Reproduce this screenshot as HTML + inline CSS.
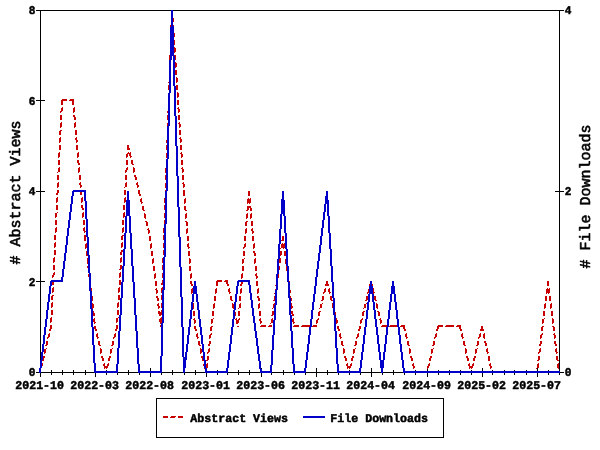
<!DOCTYPE html>
<html lang="en"><head><meta charset="utf-8">
<title>Abstract Views and File Downloads</title>
<style>
html,body{margin:0;padding:0;background:#fff;}
body{width:600px;height:450px;overflow:hidden;}
svg{display:block;}
.ax{fill:#000;}
text{font-family:"Liberation Mono","DejaVu Sans Mono",monospace;font-weight:bold;text-rendering:geometricPrecision;fill:#000;stroke:#000;stroke-width:0.45px;stroke-linejoin:round;}
.m{font-size:11.8px;stroke-width:0.5px;}
.g{font-size:15px;font-weight:normal;stroke-width:0.6px;}
</style></head><body>
<svg width="600" height="450" viewBox="0 0 600 450" shape-rendering="crispEdges">
<rect x="0" y="0" width="600" height="450" fill="#fff"/>
<path class="ax" d="M36 10h528v1h-528zM40 11h1v89h-1zM559 11h1v180h-1zM36 100h9v1h-9zM40 101h1v90h-1zM36 191h9v1h-9zM555 191h9v1h-9zM40 192h1v89h-1zM559 192h1v180h-1zM36 281h9v1h-9zM40 282h1v90h-1zM95 368h1v4h-1zM150 368h1v4h-1zM206 368h1v4h-1zM261 368h1v4h-1zM316 368h1v4h-1zM371 368h1v4h-1zM427 368h1v4h-1zM482 368h1v4h-1zM537 368h1v4h-1zM51 370h1v2h-1zM62 370h1v2h-1zM73 370h1v2h-1zM85 370h1v2h-1zM106 370h1v2h-1zM117 370h1v2h-1zM128 370h1v2h-1zM139 370h1v2h-1zM161 370h1v2h-1zM172 370h1v2h-1zM184 370h1v2h-1zM195 370h1v2h-1zM217 370h1v2h-1zM227 370h1v2h-1zM238 370h1v2h-1zM249 370h1v2h-1zM271 370h1v2h-1zM283 370h1v2h-1zM294 370h1v2h-1zM305 370h1v2h-1zM327 370h1v2h-1zM338 370h1v2h-1zM349 370h1v2h-1zM360 370h1v2h-1zM382 370h1v2h-1zM393 370h1v2h-1zM404 370h1v2h-1zM415 370h1v2h-1zM438 370h1v2h-1zM449 370h1v2h-1zM460 370h1v2h-1zM471 370h1v2h-1zM492 370h1v2h-1zM504 370h1v2h-1zM514 370h1v2h-1zM526 370h1v2h-1zM548 370h1v2h-1zM36 372h528v1h-528zM40 373h1v4h-1zM51 373h1v2h-1zM62 373h1v2h-1zM73 373h1v2h-1zM85 373h1v2h-1zM95 373h1v4h-1zM106 373h1v2h-1zM117 373h1v2h-1zM128 373h1v2h-1zM139 373h1v2h-1zM150 373h1v4h-1zM161 373h1v2h-1zM172 373h1v2h-1zM184 373h1v2h-1zM195 373h1v2h-1zM206 373h1v4h-1zM217 373h1v2h-1zM227 373h1v2h-1zM238 373h1v2h-1zM249 373h1v2h-1zM261 373h1v4h-1zM271 373h1v2h-1zM283 373h1v2h-1zM294 373h1v2h-1zM305 373h1v2h-1zM316 373h1v4h-1zM327 373h1v2h-1zM338 373h1v2h-1zM349 373h1v2h-1zM360 373h1v2h-1zM371 373h1v4h-1zM382 373h1v2h-1zM393 373h1v2h-1zM404 373h1v2h-1zM415 373h1v2h-1zM427 373h1v4h-1zM438 373h1v2h-1zM449 373h1v2h-1zM460 373h1v2h-1zM471 373h1v2h-1zM482 373h1v4h-1zM492 373h1v2h-1zM504 373h1v2h-1zM514 373h1v2h-1zM526 373h1v2h-1zM537 373h1v4h-1zM548 373h1v2h-1zM559 373h1v2h-1zM156 398h288v1h-288zM156 399h1v38h-1zM443 399h1v38h-1zM156 437h288v1h-288z"/>
<path fill="#c80000" d="M173 18h1v4h-1zM170 25h1v2h-1zM173 25h1v1h-1zM174 33h1v4h-1zM174 40h1v5h-1zM174 47h1v1h-1zM174 48h2v4h-2zM174 52h1v1h-1zM169 55h1v5h-1zM174 55h2v1h-2zM175 56h1v4h-1zM175 62h1v1h-1zM175 63h2v4h-2zM175 67h1v1h-1zM175 70h2v5h-2zM176 77h1v1h-1zM176 78h2v4h-2zM168 82h1v1h-1zM176 82h1v1h-1zM168 85h1v5h-1zM176 85h2v5h-2zM177 92h1v1h-1zM177 93h2v4h-2zM177 97h1v1h-1zM62 99h5v1h-5zM70 99h4v1h-4zM61 100h6v1h-6zM69 100h5v1h-5zM177 100h2v5h-2zM61 101h2v4h-2zM72 101h2v4h-2zM62 107h1v1h-1zM74 107h1v1h-1zM178 107h1v1h-1zM61 108h2v3h-2zM73 108h2v4h-2zM177 108h2v1h-2zM178 109h2v3h-2zM60 111h2v1h-2zM167 111h1v2h-1zM60 112h1v1h-1zM73 112h1v1h-1zM178 112h1v1h-1zM60 115h2v5h-2zM73 115h2v2h-2zM167 115h1v5h-1zM178 115h2v5h-2zM74 117h2v3h-2zM61 122h1v1h-1zM75 122h1v1h-1zM179 122h1v1h-1zM60 123h2v4h-2zM74 123h2v4h-2zM167 123h1v3h-1zM178 123h2v1h-2zM179 124h2v3h-2zM60 127h1v1h-1zM74 127h1v1h-1zM179 127h1v1h-1zM60 130h2v1h-2zM75 130h2v5h-2zM179 130h2v5h-2zM59 131h2v4h-2zM60 137h1v1h-1zM76 137h1v1h-1zM180 137h1v1h-1zM59 138h2v4h-2zM75 138h2v2h-2zM179 138h2v1h-2zM180 139h2v3h-2zM76 140h2v2h-2zM166 140h1v3h-1zM59 142h1v1h-1zM76 142h1v1h-1zM180 142h1v1h-1zM59 145h2v5h-2zM76 145h2v5h-2zM127 145h2v3h-2zM166 145h1v5h-1zM180 145h2v5h-2zM127 148h3v2h-3zM59 152h1v1h-1zM78 152h1v1h-1zM128 152h1v1h-1zM130 152h1v1h-1zM181 152h1v1h-1zM58 153h2v4h-2zM77 153h2v4h-2zM127 153h4v1h-4zM166 153h1v5h-1zM180 153h2v1h-2zM126 154h2v3h-2zM129 154h2v2h-2zM181 154h2v3h-2zM130 156h2v1h-2zM58 157h1v1h-1zM77 157h1v1h-1zM126 157h1v1h-1zM130 157h1v1h-1zM181 157h1v1h-1zM58 160h2v5h-2zM77 160h2v3h-2zM126 160h2v5h-2zM131 160h2v4h-2zM181 160h2v5h-2zM78 163h2v2h-2zM132 164h2v1h-2zM59 167h1v1h-1zM79 167h1v1h-1zM127 167h1v1h-1zM133 167h1v1h-1zM182 167h1v1h-1zM58 168h2v4h-2zM78 168h2v4h-2zM126 168h2v2h-2zM133 168h2v4h-2zM165 168h1v5h-1zM181 168h2v1h-2zM182 169h2v3h-2zM125 170h2v2h-2zM57 172h1v1h-1zM78 172h1v1h-1zM125 172h1v1h-1zM133 172h1v1h-1zM182 172h1v1h-1zM57 175h2v5h-2zM79 175h2v5h-2zM125 175h2v5h-2zM134 175h2v2h-2zM165 175h1v5h-1zM182 175h2v5h-2zM135 177h2v3h-2zM58 182h1v1h-1zM80 182h1v1h-1zM126 182h1v1h-1zM137 182h1v1h-1zM183 182h1v1h-1zM57 183h2v4h-2zM79 183h2v2h-2zM125 183h2v4h-2zM136 183h2v2h-2zM165 183h1v5h-1zM182 183h2v1h-2zM183 184h2v3h-2zM80 185h2v2h-2zM137 185h2v2h-2zM57 187h1v1h-1zM80 187h1v1h-1zM124 187h1v1h-1zM137 187h1v1h-1zM183 187h1v1h-1zM57 190h2v3h-2zM124 190h2v5h-2zM138 190h2v4h-2zM165 190h1v1h-1zM183 190h2v6h-2zM248 191h2v5h-2zM80 192h2v3h-2zM56 193h2v2h-2zM139 194h2v2h-2zM57 197h1v1h-1zM82 197h1v1h-1zM125 197h1v1h-1zM56 198h2v4h-2zM81 198h2v4h-2zM124 198h2v4h-2zM141 198h1v1h-1zM164 198h1v5h-1zM185 198h1v1h-1zM248 198h1v1h-1zM250 198h1v1h-1zM140 199h2v3h-2zM184 199h2v4h-2zM247 199h4v4h-4zM56 202h1v1h-1zM81 202h1v1h-1zM124 202h1v1h-1zM141 202h2v1h-2zM141 203h1v1h-1zM184 203h1v1h-1zM247 203h1v1h-1zM249 203h1v1h-1zM56 205h2v5h-2zM81 205h2v3h-2zM123 205h2v5h-2zM164 205h1v5h-1zM142 206h2v4h-2zM184 206h2v4h-2zM247 206h4v2h-4zM82 208h2v2h-2zM247 208h2v2h-2zM250 208h2v3h-2zM143 210h2v1h-2zM185 210h2v1h-2zM246 210h2v1h-2zM57 212h1v1h-1zM83 212h1v1h-1zM124 212h1v1h-1zM55 213h2v4h-2zM82 213h2v4h-2zM123 213h2v4h-2zM144 213h1v1h-1zM164 213h1v5h-1zM186 213h1v1h-1zM247 213h1v1h-1zM251 213h1v1h-1zM144 214h2v4h-2zM185 214h2v4h-2zM246 214h2v4h-2zM250 214h2v4h-2zM55 217h1v1h-1zM82 217h1v1h-1zM123 217h1v1h-1zM145 218h1v1h-1zM185 218h1v1h-1zM246 218h1v1h-1zM250 218h1v1h-1zM55 220h2v5h-2zM83 220h2v5h-2zM122 220h2v5h-2zM164 220h1v4h-1zM145 221h2v1h-2zM185 221h2v1h-2zM246 221h2v1h-2zM251 221h2v5h-2zM146 222h2v4h-2zM186 222h2v4h-2zM245 222h2v4h-2zM56 227h1v1h-1zM84 227h1v1h-1zM123 227h1v1h-1zM55 228h2v4h-2zM83 228h2v3h-2zM122 228h2v4h-2zM148 228h1v1h-1zM163 228h1v5h-1zM187 228h1v1h-1zM246 228h1v1h-1zM252 228h1v1h-1zM147 229h2v1h-2zM186 229h2v4h-2zM245 229h2v4h-2zM251 229h2v2h-2zM148 230h2v3h-2zM84 231h2v1h-2zM252 231h2v2h-2zM55 232h1v1h-1zM84 232h1v1h-1zM122 232h1v1h-1zM148 233h1v1h-1zM186 233h1v1h-1zM245 233h1v1h-1zM252 233h1v1h-1zM54 235h2v5h-2zM84 235h2v6h-2zM122 235h2v1h-2zM163 235h1v5h-1zM121 236h2v4h-2zM149 236h2v5h-2zM187 236h2v5h-2zM244 236h2v5h-2zM252 236h2v5h-2zM282 236h2v4h-2zM281 240h3v1h-3zM55 242h1v1h-1zM122 242h1v1h-1zM54 243h2v4h-2zM86 243h1v1h-1zM121 243h2v4h-2zM151 243h1v1h-1zM163 243h1v5h-1zM188 243h1v1h-1zM245 243h1v1h-1zM254 243h1v1h-1zM282 243h1v1h-1zM284 243h1v1h-1zM85 244h2v4h-2zM150 244h2v4h-2zM187 244h2v3h-2zM244 244h2v3h-2zM253 244h2v4h-2zM281 244h4v4h-4zM54 247h1v1h-1zM121 247h1v1h-1zM188 247h2v1h-2zM243 247h2v1h-2zM85 248h1v1h-1zM150 248h1v1h-1zM188 248h1v1h-1zM243 248h1v1h-1zM253 248h1v1h-1zM280 248h1v1h-1zM283 248h1v1h-1zM54 250h2v5h-2zM121 250h2v2h-2zM163 250h1v5h-1zM86 251h1v4h-1zM151 251h2v5h-2zM188 251h2v5h-2zM243 251h2v5h-2zM253 251h2v2h-2zM280 251h2v4h-2zM284 251h2v5h-2zM120 252h2v3h-2zM254 253h2v3h-2zM86 255h2v1h-2zM280 255h1v1h-1zM54 257h1v1h-1zM121 257h1v1h-1zM53 258h2v4h-2zM87 258h1v6h-1zM120 258h2v4h-2zM153 258h1v1h-1zM162 258h1v5h-1zM189 258h1v1h-1zM244 258h1v1h-1zM255 258h1v1h-1zM280 258h1v1h-1zM152 259h2v4h-2zM189 259h2v4h-2zM242 259h2v4h-2zM254 259h2v4h-2zM279 259h2v4h-2zM285 259h1v5h-1zM53 262h1v1h-1zM120 262h1v1h-1zM152 263h1v1h-1zM189 263h1v1h-1zM242 263h1v1h-1zM254 263h1v1h-1zM53 265h2v5h-2zM120 265h2v4h-2zM162 265h1v5h-1zM87 266h1v2h-1zM153 266h2v5h-2zM189 266h2v5h-2zM242 266h2v5h-2zM255 266h2v5h-2zM279 266h1v4h-1zM286 266h1v5h-1zM119 269h2v1h-2zM54 272h1v1h-1zM120 272h1v1h-1zM53 273h2v2h-2zM119 273h2v4h-2zM155 273h1v1h-1zM162 273h1v5h-1zM191 273h1v1h-1zM242 273h1v1h-1zM256 273h1v1h-1zM88 274h1v3h-1zM154 274h2v4h-2zM190 274h2v4h-2zM241 274h2v4h-2zM255 274h2v2h-2zM278 274h1v4h-1zM52 275h2v2h-2zM256 276h2v2h-2zM52 277h1v1h-1zM119 277h1v1h-1zM154 278h1v1h-1zM190 278h1v1h-1zM241 278h1v1h-1zM256 278h1v1h-1zM119 280h2v5h-2zM162 280h1v3h-1zM217 280h5v1h-5zM225 280h3v1h-3zM155 281h2v5h-2zM190 281h2v3h-2zM216 281h6v1h-6zM224 281h4v1h-4zM256 281h2v5h-2zM289 281h1v1h-1zM326 281h2v3h-2zM547 281h2v5h-2zM52 282h2v3h-2zM216 282h2v4h-2zM226 282h2v2h-2zM241 282h2v2h-2zM161 283h2v2h-2zM191 284h2v2h-2zM227 284h2v2h-2zM240 284h2v2h-2zM325 284h4v2h-4zM369 284h1v2h-1zM372 284h1v2h-1zM275 285h1v1h-1zM53 287h1v1h-1zM119 287h1v1h-1zM162 287h1v1h-1zM52 288h2v4h-2zM91 288h1v3h-1zM118 288h2v4h-2zM156 288h1v1h-1zM161 288h2v2h-2zM192 288h1v1h-1zM216 288h1v1h-1zM229 288h1v1h-1zM241 288h1v1h-1zM258 288h1v1h-1zM325 288h1v1h-1zM329 288h1v1h-1zM373 288h1v4h-1zM547 288h1v1h-1zM549 288h1v1h-1zM155 289h2v1h-2zM191 289h2v4h-2zM215 289h2v4h-2zM228 289h2v3h-2zM240 289h2v4h-2zM257 289h2v4h-2zM275 289h1v1h-1zM324 289h2v3h-2zM328 289h2v3h-2zM368 289h1v3h-1zM546 289h4v4h-4zM156 290h2v3h-2zM161 290h1v3h-1zM290 290h1v3h-1zM52 292h1v1h-1zM118 292h1v1h-1zM229 292h2v1h-2zM323 292h2v1h-2zM329 292h2v1h-2zM367 292h2v1h-2zM373 292h2v1h-2zM156 293h1v1h-1zM191 293h1v1h-1zM215 293h1v1h-1zM229 293h1v1h-1zM240 293h1v1h-1zM257 293h1v1h-1zM274 293h1v1h-1zM323 293h1v1h-1zM329 293h1v1h-1zM367 293h1v1h-1zM373 293h1v1h-1zM546 293h1v1h-1zM548 293h1v1h-1zM52 295h2v1h-2zM118 295h2v5h-2zM161 295h1v5h-1zM51 296h2v4h-2zM92 296h1v5h-1zM156 296h2v2h-2zM214 296h2v5h-2zM230 296h2v4h-2zM239 296h2v5h-2zM257 296h2v2h-2zM274 296h1v4h-1zM290 296h1v2h-1zM322 296h2v4h-2zM330 296h2v4h-2zM366 296h2v4h-2zM374 296h2v4h-2zM545 296h2v5h-2zM549 296h2v5h-2zM157 298h2v3h-2zM258 298h2v3h-2zM291 298h1v3h-1zM231 300h2v1h-2zM273 300h2v1h-2zM321 300h2v1h-2zM331 300h2v1h-2zM365 300h2v1h-2zM375 300h2v1h-2zM52 302h1v1h-1zM118 302h1v1h-1zM51 303h2v4h-2zM92 303h1v1h-1zM117 303h2v4h-2zM158 303h1v1h-1zM161 303h1v5h-1zM193 303h1v6h-1zM214 303h1v1h-1zM232 303h1v1h-1zM240 303h1v1h-1zM259 303h1v1h-1zM274 303h1v1h-1zM291 303h1v3h-1zM322 303h1v1h-1zM332 303h1v5h-1zM366 303h1v1h-1zM376 303h1v1h-1zM545 303h1v1h-1zM551 303h1v1h-1zM92 304h2v4h-2zM157 304h2v2h-2zM213 304h2v4h-2zM232 304h2v4h-2zM239 304h2v4h-2zM258 304h2v4h-2zM273 304h2v1h-2zM320 304h2v4h-2zM364 304h2v4h-2zM376 304h2v4h-2zM544 304h2v4h-2zM550 304h2v4h-2zM273 305h1v3h-1zM158 306h2v2h-2zM291 306h2v2h-2zM51 307h1v1h-1zM117 307h1v1h-1zM92 308h1v1h-1zM158 308h1v1h-1zM213 308h1v1h-1zM233 308h1v1h-1zM238 308h1v1h-1zM258 308h1v1h-1zM272 308h1v1h-1zM291 308h1v1h-1zM319 308h1v1h-1zM363 308h1v1h-1zM377 308h1v1h-1zM544 308h1v1h-1zM550 308h1v1h-1zM51 310h2v5h-2zM117 310h2v5h-2zM161 310h1v2h-1zM93 311h1v2h-1zM158 311h2v1h-2zM193 311h2v5h-2zM212 311h2v5h-2zM238 311h2v5h-2zM259 311h2v5h-2zM272 311h2v4h-2zM291 311h2v3h-2zM319 311h2v1h-2zM363 311h2v1h-2zM377 311h2v1h-2zM543 311h2v5h-2zM551 311h2v5h-2zM158 312h4v2h-4zM235 312h1v4h-1zM318 312h2v4h-2zM335 312h1v3h-1zM362 312h2v4h-2zM378 312h2v4h-2zM93 313h2v3h-2zM159 314h3v1h-3zM292 314h2v2h-2zM159 315h2v1h-2zM271 315h2v1h-2zM51 317h1v1h-1zM118 317h1v1h-1zM161 317h1v1h-1zM50 318h2v4h-2zM94 318h1v1h-1zM116 318h2v4h-2zM160 318h2v1h-2zM194 318h1v1h-1zM213 318h1v1h-1zM236 318h1v1h-1zM239 318h1v1h-1zM260 318h1v1h-1zM272 318h1v1h-1zM293 318h1v1h-1zM318 318h1v1h-1zM336 318h1v2h-1zM362 318h1v1h-1zM380 318h1v1h-1zM544 318h1v1h-1zM552 318h1v1h-1zM93 319h2v3h-2zM159 319h3v3h-3zM193 319h2v1h-2zM211 319h2v4h-2zM235 319h2v1h-2zM238 319h2v1h-2zM259 319h2v2h-2zM271 319h2v4h-2zM292 319h2v3h-2zM317 319h2v1h-2zM361 319h2v1h-2zM379 319h2v1h-2zM542 319h2v4h-2zM552 319h2v4h-2zM194 320h2v3h-2zM236 320h3v3h-3zM316 320h2v3h-2zM336 320h2v3h-2zM360 320h2v3h-2zM380 320h2v3h-2zM260 321h2v2h-2zM50 322h1v1h-1zM94 322h2v1h-2zM116 322h1v1h-1zM160 322h2v1h-2zM293 322h2v1h-2zM94 323h1v1h-1zM160 323h1v1h-1zM194 323h1v1h-1zM211 323h1v1h-1zM236 323h2v1h-2zM260 323h1v1h-1zM270 323h1v1h-1zM293 323h1v1h-1zM316 323h1v1h-1zM336 323h1v1h-1zM360 323h1v1h-1zM380 323h1v1h-1zM542 323h1v1h-1zM552 323h1v1h-1zM50 325h2v4h-2zM116 325h2v4h-2zM160 325h1v2h-1zM261 325h5v1h-5zM269 325h3v1h-3zM294 325h5v1h-5zM302 325h8v1h-8zM313 325h4v1h-4zM382 325h5v1h-5zM390 325h7v1h-7zM401 325h4v1h-4zM438 325h5v1h-5zM446 325h8v1h-8zM457 325h4v1h-4zM94 326h2v3h-2zM194 326h2v3h-2zM211 326h2v1h-2zM237 326h2v1h-2zM260 326h6v1h-6zM268 326h4v1h-4zM293 326h6v1h-6zM301 326h9v1h-9zM312 326h5v1h-5zM337 326h2v3h-2zM359 326h2v3h-2zM381 326h6v1h-6zM389 326h8v1h-8zM400 326h5v1h-5zM437 326h6v1h-6zM445 326h9v1h-9zM456 326h5v1h-5zM481 326h2v3h-2zM542 326h2v1h-2zM552 326h2v1h-2zM210 327h2v4h-2zM403 327h2v2h-2zM437 327h2v2h-2zM459 327h2v2h-2zM541 327h2v4h-2zM553 327h2v4h-2zM49 329h2v2h-2zM95 329h2v2h-2zM115 329h2v2h-2zM195 329h2v2h-2zM338 329h2v2h-2zM358 329h2v2h-2zM404 329h2v2h-2zM436 329h2v2h-2zM460 329h2v2h-2zM480 329h4v2h-4zM49 333h1v1h-1zM97 333h1v1h-1zM115 333h1v1h-1zM197 333h1v1h-1zM211 333h1v1h-1zM340 333h1v1h-1zM358 333h1v1h-1zM406 333h1v1h-1zM436 333h1v1h-1zM462 333h1v1h-1zM480 333h1v1h-1zM484 333h1v1h-1zM542 333h1v1h-1zM554 333h1v1h-1zM48 334h2v3h-2zM96 334h2v3h-2zM114 334h2v3h-2zM196 334h2v3h-2zM210 334h2v1h-2zM339 334h2v3h-2zM357 334h2v3h-2zM405 334h2v3h-2zM435 334h2v3h-2zM461 334h2v3h-2zM479 334h2v3h-2zM483 334h2v4h-2zM541 334h2v1h-2zM553 334h2v1h-2zM209 335h2v3h-2zM540 335h2v3h-2zM554 335h2v3h-2zM47 337h2v1h-2zM97 337h2v1h-2zM113 337h2v1h-2zM197 337h2v1h-2zM340 337h2v1h-2zM356 337h2v1h-2zM406 337h2v1h-2zM434 337h2v1h-2zM462 337h2v1h-2zM478 337h2v1h-2zM47 338h1v1h-1zM97 338h1v1h-1zM113 338h1v1h-1zM197 338h1v1h-1zM209 338h1v1h-1zM340 338h1v1h-1zM356 338h1v1h-1zM406 338h1v1h-1zM434 338h1v1h-1zM462 338h1v1h-1zM478 338h1v1h-1zM484 338h1v1h-1zM540 338h1v1h-1zM554 338h1v1h-1zM46 341h2v4h-2zM98 341h2v4h-2zM112 341h2v4h-2zM198 341h2v4h-2zM209 341h2v3h-2zM341 341h2v4h-2zM355 341h2v4h-2zM407 341h2v4h-2zM433 341h2v4h-2zM463 341h2v4h-2zM477 341h2v4h-2zM484 341h2v2h-2zM540 341h2v3h-2zM554 341h2v3h-2zM485 343h2v3h-2zM208 344h2v2h-2zM539 344h2v2h-2zM555 344h2v2h-2zM45 345h2v1h-2zM99 345h2v1h-2zM111 345h2v1h-2zM199 345h2v1h-2zM342 345h2v1h-2zM354 345h2v1h-2zM408 345h2v1h-2zM432 345h2v1h-2zM464 345h2v1h-2zM476 345h2v1h-2zM46 348h1v1h-1zM100 348h1v1h-1zM112 348h1v1h-1zM200 348h1v1h-1zM209 348h1v1h-1zM343 348h1v1h-1zM355 348h1v1h-1zM409 348h1v1h-1zM433 348h1v1h-1zM465 348h1v1h-1zM477 348h1v1h-1zM487 348h1v1h-1zM540 348h1v1h-1zM556 348h1v1h-1zM44 349h2v4h-2zM100 349h2v4h-2zM110 349h2v4h-2zM200 349h2v4h-2zM208 349h2v3h-2zM343 349h2v4h-2zM353 349h2v4h-2zM409 349h2v4h-2zM431 349h2v4h-2zM465 349h2v4h-2zM475 349h2v4h-2zM486 349h2v3h-2zM539 349h2v3h-2zM555 349h2v3h-2zM207 352h2v1h-2zM487 352h2v1h-2zM538 352h2v1h-2zM556 352h2v1h-2zM44 353h1v1h-1zM100 353h1v1h-1zM110 353h1v1h-1zM200 353h1v1h-1zM207 353h1v1h-1zM343 353h1v1h-1zM353 353h1v1h-1zM409 353h1v1h-1zM431 353h1v1h-1zM465 353h1v1h-1zM475 353h1v1h-1zM487 353h1v1h-1zM538 353h1v1h-1zM556 353h1v1h-1zM43 356h2v2h-2zM101 356h2v2h-2zM109 356h2v2h-2zM201 356h2v2h-2zM207 356h2v4h-2zM344 356h2v2h-2zM352 356h2v2h-2zM410 356h2v2h-2zM430 356h2v2h-2zM466 356h2v2h-2zM474 356h2v2h-2zM488 356h2v5h-2zM538 356h2v4h-2zM556 356h2v4h-2zM43 358h1v2h-1zM102 358h2v3h-2zM108 358h2v3h-2zM202 358h1v2h-1zM345 358h2v3h-2zM351 358h2v3h-2zM411 358h2v3h-2zM429 358h2v3h-2zM467 358h2v3h-2zM473 358h2v3h-2zM42 360h2v1h-2zM202 360h2v1h-2zM206 360h2v1h-2zM537 360h2v1h-2zM557 360h2v1h-2zM42 363h1v3h-1zM104 363h1v1h-1zM108 363h1v1h-1zM207 363h1v1h-1zM347 363h1v1h-1zM351 363h1v1h-1zM413 363h1v1h-1zM429 363h1v1h-1zM469 363h1v1h-1zM473 363h1v1h-1zM490 363h1v1h-1zM538 363h1v1h-1zM558 363h1v1h-1zM103 364h2v2h-2zM107 364h2v2h-2zM203 364h1v2h-1zM206 364h2v4h-2zM346 364h2v2h-2zM350 364h2v2h-2zM412 364h2v2h-2zM428 364h2v2h-2zM468 364h2v2h-2zM472 364h2v2h-2zM489 364h2v2h-2zM537 364h2v4h-2zM557 364h2v4h-2zM104 366h4v2h-4zM347 366h4v2h-4zM413 366h2v2h-2zM427 366h2v2h-2zM469 366h4v2h-4zM490 366h2v2h-2zM104 368h1v1h-1zM106 368h1v1h-1zM204 368h1v1h-1zM347 368h1v1h-1zM349 368h1v1h-1zM413 368h1v1h-1zM427 368h1v1h-1zM469 368h1v1h-1zM471 368h1v1h-1zM490 368h1v1h-1zM536 368h1v1h-1zM558 368h1v1h-1zM163 416h5v2h-5zM171 416h5v1h-5zM178 416h5v2h-5zM170 417h5v1h-5z"/>
<path fill="#0000c8" d="M171 10h2v16h-2zM171 26h3v1h-3zM170 27h4v29h-4zM170 56h2v4h-2zM173 56h2v30h-2zM169 60h2v33h-2zM174 86h2v30h-2zM168 93h2v33h-2zM175 116h2v30h-2zM167 126h2v33h-2zM176 146h2v30h-2zM166 159h2v32h-2zM177 176h2v31h-2zM73 190h13v1h-13zM72 191h14v1h-14zM127 191h2v9h-2zM165 191h2v33h-2zM282 191h2v8h-2zM326 191h2v5h-2zM72 192h2v4h-2zM84 192h2v9h-2zM71 196h2v8h-2zM325 196h3v4h-3zM281 199h3v1h-3zM126 200h4v16h-4zM281 200h4v14h-4zM325 200h4v4h-4zM85 201h2v18h-2zM70 204h2v8h-2zM324 204h2v8h-2zM327 204h2v12h-2zM178 207h2v30h-2zM69 212h2v8h-2zM323 212h2v8h-2zM280 214h2v15h-2zM283 214h2v2h-2zM125 216h2v17h-2zM129 216h2v17h-2zM284 216h2v17h-2zM328 216h2v17h-2zM86 219h2v18h-2zM68 220h2v8h-2zM322 220h2v8h-2zM164 224h2v33h-2zM67 228h2v8h-2zM321 228h2v8h-2zM279 229h2v15h-2zM124 233h2v16h-2zM130 233h2v16h-2zM285 233h2v16h-2zM329 233h2v16h-2zM66 236h2v9h-2zM320 236h2v9h-2zM87 237h2v18h-2zM179 237h2v30h-2zM278 244h2v15h-2zM65 245h2v8h-2zM319 245h2v8h-2zM123 249h2v17h-2zM131 249h2v17h-2zM286 249h2v17h-2zM330 249h2v17h-2zM64 253h2v8h-2zM318 253h2v8h-2zM88 255h2v18h-2zM163 257h2v33h-2zM277 259h2v15h-2zM63 261h2v8h-2zM317 261h2v8h-2zM122 266h2v16h-2zM132 266h2v16h-2zM287 266h2v16h-2zM331 266h2v16h-2zM180 267h2v30h-2zM62 269h2v8h-2zM316 269h2v8h-2zM89 273h2v18h-2zM276 274h2v16h-2zM61 277h2v3h-2zM315 277h2v9h-2zM51 280h12v1h-12zM238 280h12v1h-12zM50 281h13v1h-13zM194 281h2v5h-2zM237 281h13v1h-13zM370 281h2v5h-2zM392 281h2v5h-2zM50 282h2v4h-2zM121 282h2v16h-2zM133 282h2v16h-2zM237 282h2v4h-2zM248 282h2v3h-2zM288 282h2v16h-2zM332 282h2v16h-2zM249 285h2v8h-2zM49 286h2v8h-2zM193 286h4v8h-4zM236 286h2v8h-2zM314 286h2v8h-2zM369 286h4v8h-4zM391 286h4v8h-4zM162 290h2v33h-2zM275 290h2v15h-2zM90 291h2v18h-2zM250 293h2v7h-2zM48 294h2v8h-2zM192 294h2v8h-2zM196 294h2v8h-2zM235 294h2v8h-2zM313 294h2v8h-2zM368 294h2v8h-2zM372 294h2v8h-2zM390 294h2v8h-2zM394 294h2v8h-2zM181 297h2v30h-2zM120 298h2v17h-2zM134 298h2v17h-2zM289 298h2v17h-2zM333 298h2v17h-2zM251 300h2v8h-2zM47 302h2v8h-2zM191 302h2v8h-2zM197 302h2v8h-2zM234 302h2v8h-2zM312 302h2v8h-2zM367 302h2v8h-2zM373 302h2v8h-2zM389 302h2v8h-2zM395 302h2v8h-2zM274 305h2v15h-2zM252 308h2v8h-2zM91 309h2v18h-2zM46 310h2v9h-2zM190 310h2v9h-2zM198 310h2v9h-2zM233 310h2v9h-2zM311 310h2v9h-2zM366 310h2v9h-2zM374 310h2v9h-2zM388 310h2v9h-2zM396 310h2v9h-2zM119 315h2v16h-2zM135 315h2v16h-2zM290 315h2v16h-2zM334 315h2v16h-2zM253 316h2v7h-2zM45 319h2v8h-2zM189 319h2v8h-2zM199 319h2v8h-2zM232 319h2v8h-2zM310 319h2v8h-2zM365 319h2v8h-2zM375 319h2v8h-2zM387 319h2v8h-2zM397 319h2v8h-2zM273 320h2v15h-2zM161 323h2v33h-2zM254 323h2v8h-2zM44 327h2v8h-2zM92 327h2v18h-2zM182 327h2v30h-2zM188 327h2v8h-2zM200 327h2v8h-2zM231 327h2v8h-2zM309 327h2v8h-2zM364 327h2v8h-2zM376 327h2v8h-2zM386 327h2v8h-2zM398 327h2v8h-2zM118 331h2v17h-2zM136 331h2v17h-2zM255 331h2v7h-2zM291 331h2v17h-2zM335 331h2v17h-2zM43 335h2v9h-2zM187 335h2v9h-2zM201 335h2v9h-2zM230 335h2v9h-2zM272 335h2v15h-2zM308 335h2v9h-2zM363 335h2v9h-2zM377 335h2v9h-2zM385 335h2v9h-2zM399 335h2v9h-2zM256 338h2v8h-2zM42 344h2v8h-2zM186 344h2v8h-2zM202 344h2v8h-2zM229 344h2v8h-2zM307 344h2v8h-2zM362 344h2v8h-2zM378 344h2v8h-2zM384 344h2v8h-2zM400 344h2v8h-2zM93 345h2v18h-2zM257 346h2v8h-2zM117 348h2v16h-2zM137 348h2v16h-2zM292 348h2v16h-2zM336 348h2v16h-2zM271 350h2v15h-2zM41 352h2v8h-2zM185 352h2v5h-2zM203 352h2v8h-2zM228 352h2v8h-2zM306 352h2v8h-2zM361 352h2v8h-2zM379 352h2v8h-2zM383 352h2v8h-2zM401 352h2v8h-2zM258 354h2v7h-2zM160 356h2v15h-2zM183 357h4v3h-4zM40 360h2v8h-2zM183 360h3v8h-3zM204 360h2v8h-2zM227 360h2v8h-2zM305 360h2v8h-2zM360 360h2v8h-2zM380 360h4v8h-4zM402 360h2v8h-2zM259 361h2v8h-2zM94 363h2v8h-2zM116 364h2v7h-2zM138 364h2v7h-2zM293 364h2v7h-2zM337 364h2v7h-2zM270 365h2v6h-2zM39 368h2v5h-2zM183 368h2v5h-2zM205 368h2v3h-2zM226 368h2v3h-2zM304 368h2v3h-2zM359 368h2v3h-2zM381 368h2v5h-2zM403 368h2v3h-2zM260 369h2v2h-2zM94 371h24v2h-24zM138 371h24v2h-24zM205 371h23v2h-23zM260 371h12v2h-12zM293 371h13v2h-13zM337 371h24v2h-24zM403 371h157v2h-157zM303 416h22v2h-22z"/>
<text class="m" x="28.8" y="376" textLength="6.7" lengthAdjust="spacingAndGlyphs">0</text>
<text class="m" x="28.8" y="286" textLength="6.7" lengthAdjust="spacingAndGlyphs">2</text>
<text class="m" x="28.8" y="195" textLength="6.7" lengthAdjust="spacingAndGlyphs">4</text>
<text class="m" x="28.8" y="105" textLength="6.7" lengthAdjust="spacingAndGlyphs">6</text>
<text class="m" x="28.8" y="14" textLength="6.7" lengthAdjust="spacingAndGlyphs">8</text>
<text class="m" x="564.8" y="376" textLength="6.7" lengthAdjust="spacingAndGlyphs">0</text>
<text class="m" x="564.8" y="195" textLength="6.7" lengthAdjust="spacingAndGlyphs">2</text>
<text class="m" x="564.8" y="14" textLength="6.7" lengthAdjust="spacingAndGlyphs">4</text>
<text class="m" x="15.3" y="389" textLength="48.7" lengthAdjust="spacingAndGlyphs">2021-10</text>
<text class="m" x="70.3" y="389" textLength="48.7" lengthAdjust="spacingAndGlyphs">2022-03</text>
<text class="m" x="125.3" y="389" textLength="48.7" lengthAdjust="spacingAndGlyphs">2022-08</text>
<text class="m" x="181.3" y="389" textLength="48.7" lengthAdjust="spacingAndGlyphs">2023-01</text>
<text class="m" x="236.3" y="389" textLength="48.7" lengthAdjust="spacingAndGlyphs">2023-06</text>
<text class="m" x="291.3" y="389" textLength="48.7" lengthAdjust="spacingAndGlyphs">2023-11</text>
<text class="m" x="346.3" y="389" textLength="48.7" lengthAdjust="spacingAndGlyphs">2024-04</text>
<text class="m" x="402.3" y="389" textLength="48.7" lengthAdjust="spacingAndGlyphs">2024-09</text>
<text class="m" x="457.3" y="389" textLength="48.7" lengthAdjust="spacingAndGlyphs">2025-02</text>
<text class="m" x="512.3" y="389" textLength="48.7" lengthAdjust="spacingAndGlyphs">2025-07</text>
<text class="m" x="190.3" y="422" textLength="97.7" lengthAdjust="spacingAndGlyphs">Abstract Views</text>
<text class="m" x="330.3" y="422" textLength="97.7" lengthAdjust="spacingAndGlyphs">File Downloads</text>
<text class="g" transform="translate(20,264.6) rotate(-90)" textLength="144" lengthAdjust="spacingAndGlyphs"># Abstract Views</text>
<text class="g" transform="translate(590,268.6) rotate(-90)" textLength="144" lengthAdjust="spacingAndGlyphs"># File Downloads</text>
</svg>
</body></html>
